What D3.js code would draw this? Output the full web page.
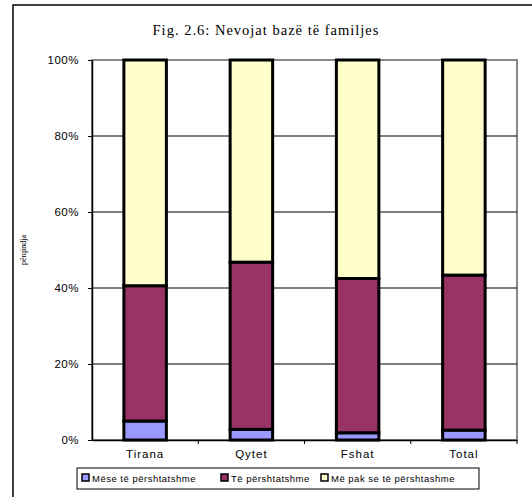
<!DOCTYPE html>
<html>
<head>
<meta charset="utf-8">
<script src="https://cdn.jsdelivr.net/npm/d3@7"></script>
<style>
  body { margin: 0; background: #fff; }
  svg { display: block; }
</style>
</head>
<body>
<svg id="chart" width="532" height="497"></svg>
<script>
// Data (percent)
var categories = ['Tirana', 'Qytet', 'Fshat', 'Total'];
var seriesNames = ['Mëse të përshtatshme', 'Të përshtatshme', 'Më pak se të përshtashme'];
var meseValues = [5.0, 2.8, 1.9, 2.6];
var teValues = [35.6, 44.0, 40.6, 40.8];
var pakValues = [59.4, 53.2, 57.5, 56.6];
var yTicks = [0, 20, 40, 60, 80, 100];
var colors = ['#9999FF', '#993366', '#FFFFCC'];

var svg = d3.select('#chart');
var margin = {left: 92, top: 60, right: 15, bottom: 57};
var width = 532 - margin.left - margin.right;
var height = 497 - margin.top - margin.bottom;

// Outer frame
svg.append('rect')
  .attr('x', 13).attr('y', 5)
  .attr('width', 540).attr('height', 520)
  .attr('fill', 'none').attr('stroke', '#000').attr('stroke-width', 1.5);

// Title
svg.append('text')
  .attr('x', 266).attr('y', 35)
  .attr('text-anchor', 'middle')
  .attr('font-family', 'Liberation Serif, Times New Roman, serif')
  .attr('font-size', '14.5px')
  .attr('letter-spacing', '1px')
  .text('Fig. 2.6: Nevojat bazë të familjes');

var g = svg.append('g')
  .attr('transform', 'translate(' + margin.left + ',' + margin.top + ')');

var x = d3.scaleBand().domain(categories).range([0, width]).paddingInner(0.6).paddingOuter(0.3);
var xOuter = d3.scaleBand().domain(categories).range([0, width]);
var y = d3.scaleLinear().domain([0, 100]).range([height, 0]);

// Plot area border (gray)
g.append('rect')
  .attr('x', 0).attr('y', 0)
  .attr('width', width).attr('height', height)
  .attr('fill', 'none').attr('stroke', '#888').attr('stroke-width', 2);

// Grid lines
g.append('g')
  .selectAll('line')
  .data(yTicks.filter(function(d){ return d > 0 && d < 100; }))
  .enter().append('line')
  .attr('x1', 0).attr('x2', width)
  .attr('y1', function(d){ return y(d); })
  .attr('y2', function(d){ return y(d); })
  .attr('stroke', '#000').attr('stroke-width', 1);

// Stack
var rows = categories.map(function(c, i){
  return {cat: c, a: meseValues[i], b: teValues[i], c: pakValues[i]};
});
var stack = d3.stack().keys(['a', 'b', 'c']);
var layers = stack(rows);

g.append('g')
  .selectAll('g')
  .data(layers)
  .enter().append('g')
  .attr('fill', function(d, i){ return colors[i]; })
  .selectAll('rect')
  .data(function(d){ return d; })
  .enter().append('rect')
  .attr('x', function(d){ return x(d.data.cat); })
  .attr('width', x.bandwidth())
  .attr('y', function(d){ return y(d[1]); })
  .attr('height', function(d){ return y(d[0]) - y(d[1]); })
  .attr('stroke', '#000').attr('stroke-width', 3);

// Y axis
var yAxis = g.append('g')
  .call(d3.axisLeft(y).tickValues(yTicks).tickSize(4).tickSizeOuter(0)
    .tickFormat(function(d){ return d + '%'; }));
yAxis.select('.domain').attr('stroke', '#000').attr('stroke-width', 1.5);
yAxis.selectAll('text')
  .attr('font-family', 'Liberation Sans, Arial, sans-serif')
  .attr('font-size', '11.5px')
  .attr('letter-spacing', '0.5px')
  .attr('fill', '#000')
  .attr('x', -13);

// X axis
var xAxis = g.append('g')
  .attr('transform', 'translate(0,' + height + ')')
  .call(d3.axisBottom(xOuter).tickSize(0).tickSizeOuter(0));
xAxis.select('.domain').attr('stroke', '#000').attr('stroke-width', 1.5);
xAxis.selectAll('text')
  .attr('font-family', 'Liberation Sans, Arial, sans-serif')
  .attr('font-size', '11.5px')
  .attr('letter-spacing', '1px')
  .attr('fill', '#000')
  .attr('dy', 0)
  .attr('y', 18);
// X ticks at category boundaries
xAxis.selectAll('.bound')
  .data(categories.slice(1).concat(['end']))
  .enter().append('line')
  .attr('x1', function(d){ return d === 'end' ? width : xOuter(d); })
  .attr('x2', function(d){ return d === 'end' ? width : xOuter(d); })
  .attr('y1', 0).attr('y2', 4)
  .attr('stroke', '#000');

// Y axis title
svg.append('text')
  .attr('transform', 'translate(26,250) rotate(-90)')
  .attr('text-anchor', 'middle')
  .attr('font-family', 'Liberation Serif, Times New Roman, serif')
  .attr('font-size', '8px')
  .text('përqindja');

// Legend
var legend = svg.append('g');
legend.append('rect')
  .attr('x', 77).attr('y', 468)
  .attr('width', 402).attr('height', 21)
  .attr('fill', '#fff').attr('stroke', '#000').attr('stroke-width', 1);
var legendX = [82, 221, 321];
var items = legend.selectAll('.item')
  .data(seriesNames)
  .enter().append('g')
  .attr('transform', function(d, i){ return 'translate(' + legendX[i] + ',474)'; });
items.append('rect')
  .attr('width', 7).attr('height', 7)
  .attr('fill', function(d, i){ return colors[i]; })
  .attr('stroke', '#000').attr('stroke-width', 1.5);
items.append('text')
  .attr('x', 10).attr('y', 7.5)
  .attr('font-family', 'Liberation Sans, Arial, sans-serif')
  .attr('font-size', '9.5px')
  .attr('letter-spacing', '0.5px')
  .text(function(d){ return d; });
</script>
</body>
</html>
